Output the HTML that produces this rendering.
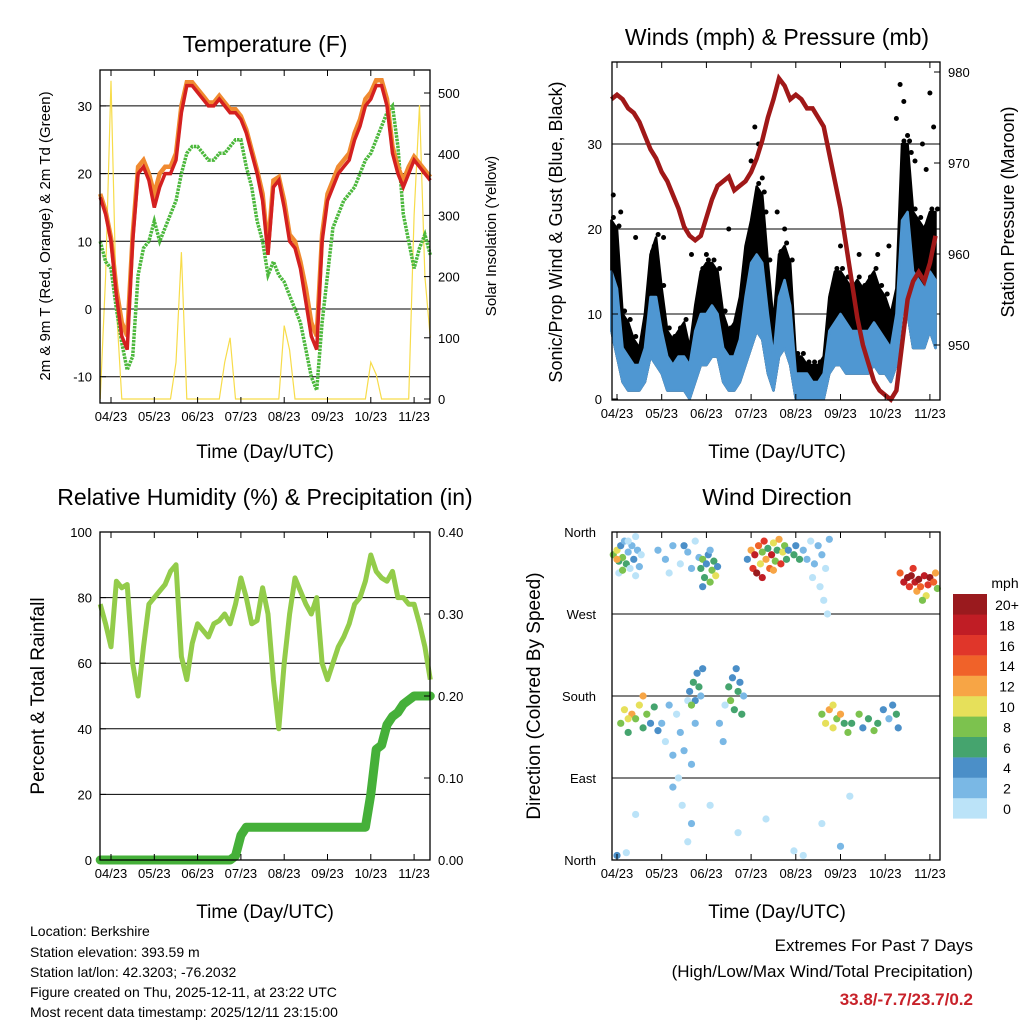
<!DOCTYPE html>
<html><head><meta charset="utf-8"><style>
body{margin:0;background:#fff}
svg{display:block;font-family:"Liberation Sans",sans-serif}
</style></head><body>
<svg id="chart" width="1024" height="1024" viewBox="0 0 1024 1024" xmlns="http://www.w3.org/2000/svg">
<rect width="1024" height="1024" fill="#fff"/>
<g id="g1"></g>
<g id="g2"></g>
<g id="g3"></g>
<g id="g4"></g>
<g font-size="14" fill="#000">
<text x="30" y="936">Location: Berkshire</text>
<text x="30" y="957">Station elevation: 393.59 m</text>
<text x="30" y="977">Station lat/lon: 42.3203; -76.2032</text>
<text x="30" y="997">Figure created on Thu, 2025-12-11, at 23:22 UTC</text>
<text x="30" y="1017">Most recent data timestamp: 2025/12/11 23:15:00</text>
</g>
<g font-size="17" text-anchor="end">
<text x="973" y="951">Extremes For Past 7 Days</text>
<text x="973" y="977">(High/Low/Max Wind/Total Precipitation)</text>
<text x="973" y="1005" fill="#c8222a" font-weight="bold">33.8/-7.7/23.7/0.2</text>
</g>
</svg>
<script>
// ---------- data ----------
const tickLabels = ["04/23","05/23","06/23","07/23","08/23","09/23","10/23","11/23"];
const tempRed = [16.5,14,10,2,-4,-6,10,20,21,19,15,18,20,20,22,29,33,33,32,31,30,30,31,30,29,29,28,26,23,20,16,8,18,19,15,10,9,6,1,-4,-6,10,16,18,20,21,22,25,27,30,31,33,33,30,23,20,18,20,22,21,20,19];
const tempOrange = [17,14.5,10.5,3,-2,-4,11,21,22,20,17,20,21,21,23,30,33.5,33.5,32.5,31.5,30.5,30.5,31.5,30.5,29.5,29.5,28.5,26.5,23.5,20.5,17,9,19,19.5,16,11,10,7,3,-2,-4,11,17,19,21,22,23,26,28,31,32,33.8,33.8,31,24,21,19,21,22.5,21.5,20.5,19.5];
const tempDew = [10,7,6,0,-5,-9,-7,5,9,10,13,10,12,14,16,20,23,24,24,23,22,22,23,23,24,25,25,21,18,13,10,5,7,5,4,2,0,-2,-6,-10,-12,-2,5,12,14,16,17,18,20,22,23,25,27,29,30,24,14,10,6,9,11,8];
const solar = [0,200,520,150,0,0,0,0,0,0,0,0,0,0,60,240,0,0,0,0,0,0,0,60,100,0,0,0,0,0,0,0,0,0,120,80,0,0,0,0,0,0,0,0,0,0,0,0,0,0,60,40,0,0,0,0,0,0,300,480,200,100];
const rh = [78,72,65,85,83,84,60,50,65,78,80,82,84,88,90,62,55,66,72,70,68,72,73,75,72,78,86,80,72,73,83,75,55,40,60,75,86,82,78,75,80,60,55,60,65,68,72,78,80,85,93,88,86,85,88,80,80,78,78,72,65,55];
const precip = [0,0,0,0,0,0,0,0,0,0,0,0,0,0,0,0,0,0,0,0,0,0,0,0,0,0.005,0.03,0.04,0.04,0.04,0.04,0.04,0.04,0.04,0.04,0.04,0.04,0.04,0.04,0.04,0.04,0.04,0.04,0.04,0.04,0.04,0.04,0.04,0.04,0.04,0.08,0.135,0.14,0.165,0.175,0.18,0.19,0.195,0.2,0.2,0.2,0.2];
const pressure = [977,977.5,977,976,975.5,974.5,973,971.5,970.5,969,968,966.5,965,963,962,961.5,962,964,966,967.5,968,968.5,967,967.5,968,969,970.5,972.5,975,977,979.3,978.5,977,977.5,977,976,976,975,974,971,968,965,961,957,953,950,948,946,945,944.5,944,945,950,955,957,958,957,959,962];
const windLo = [8,5,2,1,1,1,2,5,4,3,1,1,1,1,0,2,4,4,5,5,2,1,1,2,4,6,8,7,3,1,5,6,4,0,0,0,0,0,0,3,4,4,3,3,3,3,3,4,3,3,2,4,10,10,6,6,6,8,6];
const windHi = [15,13,6,5,4,4,6,12,12,8,5,4,5,5,4,8,10,10,11,10,6,5,5,7,12,16,17,16,10,5,12,14,11,3,3,3,2,2,3,8,9,10,9,8,8,8,8,9,8,7,6,10,21,22,15,14,13,15,14];
const gustHi = [21,20,10,9,7,6,10,17,19,13,8,7,8,9,6,11,15,16,16,15,10,8,9,12,18,21,25,24,16,9,17,18,16,5,5,4,4,4,5,12,15,15,14,13,14,13,14,15,13,12,10,13,30,30,22,21,20,22,22];
const gustOutHours = [-2,2,25,48,72,74,76,78,80,150,152,154,156,160,164,168,170,10,20,40,60,86,90,120,130,140,146,158,166];
const gustOutVals = [24,22,19,17,28,32,30,26,22,33,37,35,31,28,30,36,32,19,18,17,20,22,20,18,17,17,18,29,27];
const dirHours = [-2,0,1,2,3,4,5,6,7,8,9,10,11,12,1,6,3,0,13,10,22,26,30,34,38,42,44,28,36,40,45,46,47,48,49,50,51,52,53,54,46,50,70,72,73,74,76,77,78,79,80,81,82,83,84,85,86,87,88,89,90,91,92,75,78,84,95,96,98,100,102,104,106,108,110,112,114,105,109,111,113,152,154,156,157,158,160,161,162,163,165,166,167,168,170,171,172,164,159,2,4,6,8,10,12,14,16,18,20,22,14,6,24,26,28,30,32,34,36,38,40,42,30,35,40,33,39,41,42,43,44,45,46,40,60,61,62,63,64,65,66,67,68,55,57,58,110,112,114,116,118,120,122,124,116,126,130,132,135,138,140,143,146,148,150,151,0,5,10,38,50,65,95,100,110,120,125,80];
const dirDeg = [335,340,328,345,332,350,325,338,320,345,330,355,340,322,315,350,318,330,335,312,340,330,345,325,338,350,332,315,345,320,320,330,310,325,335,305,318,328,312,322,300,340,330,340,320,335,345,325,338,350,330,342,320,335,348,328,340,352,325,338,345,330,340,315,310,318,335,345,330,340,330,350,325,345,335,320,352,310,300,285,270,315,305,310,300,312,305,295,308,300,312,290,302,310,305,315,298,285,320,150,165,140,160,155,170,145,160,150,168,142,180,155,150,130,170,115,160,140,120,175,105,150,80,60,40,90,185,195,175,205,190,180,210,170,190,175,200,165,210,185,195,160,180,150,130,170,160,150,165,145,155,160,150,140,170,150,160,145,155,142,150,165,155,170,160,145,5,8,50,20,60,30,10,5,40,15,70,45];
const dirSpd = [8,10,6,4,9,2,7,3,1,2,5,1,2,3,1,0,9,12,1,0,2,3,2,1,2,0,3,1,4,2,6,8,7,4,5,8,9,6,10,4,5,3,4,12,16,18,14,10,8,16,12,6,14,18,10,8,6,12,16,10,8,6,4,20,18,12,6,4,6,2,3,1,2,3,2,1,2,0,1,1,0,14,18,20,16,20,18,12,20,14,18,10,16,20,14,12,8,8,16,8,10,6,12,8,10,6,8,4,6,4,12,10,2,1,3,2,1,3,2,1,2,3,2,1,2,1,4,6,5,4,6,3,5,8,6,8,4,6,5,7,4,6,3,2,2,1,8,10,12,10,8,12,6,8,10,6,8,4,6,8,6,4,3,4,6,4,4,1,0,1,1,1,1,1,0,2,1,1];
const speedBins = ["0","2","4","6","8","10","12","14","16","18","20+"];
const speedColors = ["#bbe3f8","#7ab8e5","#4b8fc8","#45a46e","#7cc24e","#e6e05a","#f7a545","#f06229","#e0362a","#c01d25","#9a1a1e"];

const NS="http://www.w3.org/2000/svg";
function mk(parent,tag,attrs){const e=document.createElementNS(NS,tag);for(const k in attrs)e.setAttribute(k,attrs[k]);parent.appendChild(e);return e;}
function txt(parent,x,y,s,size,anchor,rot){const e=mk(parent,"text",{x:x,y:y,"font-size":size,"text-anchor":anchor||"middle"});if(rot)e.setAttribute("transform","rotate(-90 "+x+" "+y+")");e.textContent=s;return e;}
function lin(d0,d1,r0,r1){return v=>r0+(v-d0)/(d1-d0)*(r1-r0);}
function frame(g,x0,y0,x1,y1){const r=mk(g,"rect",{x:x0,y:y0,width:x1-x0,height:y1-y0,fill:"none",stroke:"#000","stroke-width":1.3});}
function xTicks(g,sx,y1,y0){tickLabels.forEach((l,i)=>{const x=sx(i*24);mk(g,"line",{x1:x,y1:y1,x2:x,y2:y1-6,stroke:"#000"});mk(g,"line",{x1:x,y1:y0,x2:x,y2:y0+6,stroke:"#000"});const t=txt(g,x,y1+18,l,13);});}
function ptsLine(xs,ys){return xs.map((x,i)=>x.toFixed(1)+","+ys[i].toFixed(1)).join(" ");}

(function(){
 const g=document.getElementById("g1");
 const X0=100,X1=430,Y0=70,Y1=403;
 const sx=lin(0,24,111,154.3), sy=lin(0,10,309,241.3), sr=lin(0,500,399,93);
 const hrs=tempRed.map((_,i)=>-6+3*i);
 [30,20,10,0,-10].forEach(v=>mk(g,"line",{x1:X0,x2:X1,y1:sy(v),y2:sy(v),stroke:"#000","stroke-width":1}));
 const sol=mk(g,"polyline",{points:ptsLine(hrs.map(sx),solar.map(sr)),fill:"none",stroke:"#f7dc4a","stroke-width":1.2});
 
 const dew=mk(g,"polyline",{points:ptsLine(hrs.map(sx),tempDew.map(sy)),fill:"none",stroke:"#4cb83c","stroke-width":3.5,"stroke-dasharray":"2.5 1"});
 
 const or=mk(g,"polyline",{points:ptsLine(hrs.map(sx),tempOrange.map(sy)),fill:"none",stroke:"#f08a30","stroke-width":4.5});
 
 const rd=mk(g,"polyline",{points:ptsLine(hrs.map(sx),tempRed.map(sy)),fill:"none",stroke:"#d42020","stroke-width":3.5});
 
 frame(g,X0,Y0,X1,Y1);
 [30,20,10,0,-10].forEach(v=>{mk(g,"line",{x1:X0,x2:X0+6,y1:sy(v),y2:sy(v),stroke:"#000"});const t=txt(g,X0-8,sy(v)+5,String(v),13,"end");});
 [0,100,200,300,400,500].forEach(v=>{mk(g,"line",{x1:X1,x2:X1-6,y1:sr(v),y2:sr(v),stroke:"#000"});const t=txt(g,X1+8,sr(v)+5,String(v),13,"start");});
 xTicks(g,sx,Y1,Y0);
 let t=txt(g,265,52,"Temperature (F)",23);
 t=txt(g,265,458,"Time (Day/UTC)",19);
 t=txt(g,50,236,"2m & 9m T (Red, Orange) & 2m Td (Green)",15,"middle",true);
 t=txt(g,496,236,"Solar Insolation (Yellow)",15,"middle",true);
})();

(function(){
 const g=document.getElementById("g2");
 const X0=612,X1=940,Y0=62,Y1=400;
 const sx=lin(0,24,617,661.7), sy=lin(0,10,399,314), sp=lin(980,950,72,345);
 const hrs=pressure.map((_,i)=>-3+3*i);
 [30,20,10].forEach(v=>mk(g,"line",{x1:X0,x2:X1,y1:sy(v),y2:sy(v),stroke:"#000"}));
 const xs=hrs.map(sx);
 const band=(lo,hi,col,name)=>{const p=mk(g,"polygon",{points:ptsLine(xs,hi.map(sy))+" "+ptsLine(xs.slice().reverse(),lo.slice().reverse().map(sy)),fill:col,stroke:col,"stroke-width":2.5,"stroke-linejoin":"round"});};
 band(windLo,gustHi,"#000","gust-band");
 hrs.forEach((h,i)=>{const c=mk(g,"circle",{cx:sx(h)+2,cy:sy(gustHi[i])-3,r:2.5,fill:"#000"});});
 gustOutHours.forEach((h,i)=>{const c=mk(g,"circle",{cx:sx(h),cy:sy(gustOutVals[i]),r:2.5,fill:"#000"});});
 band(windLo,windHi,"#4f97d2","wind-speed-band");
 const pl=mk(g,"polyline",{points:ptsLine(xs,pressure.map(sp)),fill:"none",stroke:"#a01818","stroke-width":4.5});
 
 frame(g,X0,Y0,X1,Y1);
 [0,10,20,30].forEach(v=>{mk(g,"line",{x1:X0,x2:X0+6,y1:sy(v),y2:sy(v),stroke:"#000"});const t=txt(g,X0-10,sy(v)+5,String(v),13,"end");});
 [980,970,960,950].forEach(v=>{mk(g,"line",{x1:X1,x2:X1-6,y1:sp(v),y2:sp(v),stroke:"#000"});const t=txt(g,X1+8,sp(v)+5,String(v),13,"start");});
 xTicks(g,sx,Y1,Y0);
 let t=txt(g,777,45,"Winds (mph) & Pressure (mb)",23);
 t=txt(g,777,458,"Time (Day/UTC)",19);
 t=txt(g,562,232,"Sonic/Prop Wind & Gust (Blue, Black)",18,"middle",true);
 t=txt(g,1014,212,"Station Pressure (Maroon)",18,"middle",true);
})();

(function(){
 const g=document.getElementById("g3");
 const X0=100,X1=430,Y0=532,Y1=860;
 const sx=lin(0,24,111,154.3), sy=lin(0,100,860,532), sr=lin(0,0.4,860,532);
 const hrs=rh.map((_,i)=>-6+3*i);
 [80,60,40,20].forEach(v=>mk(g,"line",{x1:X0,x2:X1,y1:sy(v),y2:sy(v),stroke:"#000"}));
 const p=mk(g,"polyline",{points:ptsLine(hrs.map(sx),precip.map(sr)),fill:"none",stroke:"#45b039","stroke-width":9,"stroke-linejoin":"round","stroke-linecap":"round"});
 
 const r=mk(g,"polyline",{points:ptsLine(hrs.map(sx),rh.map(sy)),fill:"none",stroke:"#93cc4a","stroke-width":5,"stroke-linejoin":"round"});
 
 frame(g,X0,Y0,X1,Y1);
 [0,20,40,60,80,100].forEach(v=>{mk(g,"line",{x1:X0,x2:X0+6,y1:sy(v),y2:sy(v),stroke:"#000"});const t=txt(g,X0-8,sy(v)+5,String(v),13,"end");});
 ["0.00","0.10","0.20","0.30","0.40"].forEach(v=>{const y=sr(+v);mk(g,"line",{x1:X1,x2:X1-6,y1:y,y2:y,stroke:"#000"});const t=txt(g,X1+8,y+5,v,13,"start");});
 xTicks(g,sx,Y1,Y0);
 let t=txt(g,265,505,"Relative Humidity (%) & Precipitation (in)",23);
 t=txt(g,265,918,"Time (Day/UTC)",19);
 t=txt(g,44,696,"Percent & Total Rainfall",19,"middle",true);
})();

(function(){
 const g=document.getElementById("g4");
 const X0=612,X1=940,Y0=532,Y1=860;
 const sx=lin(0,24,617,661.7), sy=lin(0,360,860,532);
 [270,180,90].forEach(v=>mk(g,"line",{x1:X0,x2:X1,y1:sy(v),y2:sy(v),stroke:"#000"}));
 dirHours.forEach((h,i)=>{const b=Math.min(10,Math.floor(dirSpd[i]/2));const c=mk(g,"circle",{cx:sx(h),cy:sy(dirDeg[i]),r:3.6,fill:speedColors[b]});
  });
 frame(g,X0,Y0,X1,Y1);
 ["North","East","South","West","North"].forEach((l,i)=>{const y=sy(i*90);mk(g,"line",{x1:X0,x2:X0+6,y1:y,y2:y,stroke:"#000"});const t=txt(g,X0-16,y+5,l,13,"end");});
 xTicks(g,sx,Y1,Y0);
 let t=txt(g,777,505,"Wind Direction",23);
 t=txt(g,777,918,"Time (Day/UTC)",19);
 t=txt(g,540,696,"Direction (Colored By Speed)",19,"middle",true);
 const lg=mk(g,"g",{});
 t=txt(lg,1005,588,"mph",14);
 speedBins.forEach((s,i)=>{const y=594+(10-i)*20.4;const r=mk(lg,"rect",{x:953,y:y,width:34,height:20.6,fill:speedColors[i]});const tt=txt(lg,1007,y+16,s,14);});
})();
</script>
</body></html>
